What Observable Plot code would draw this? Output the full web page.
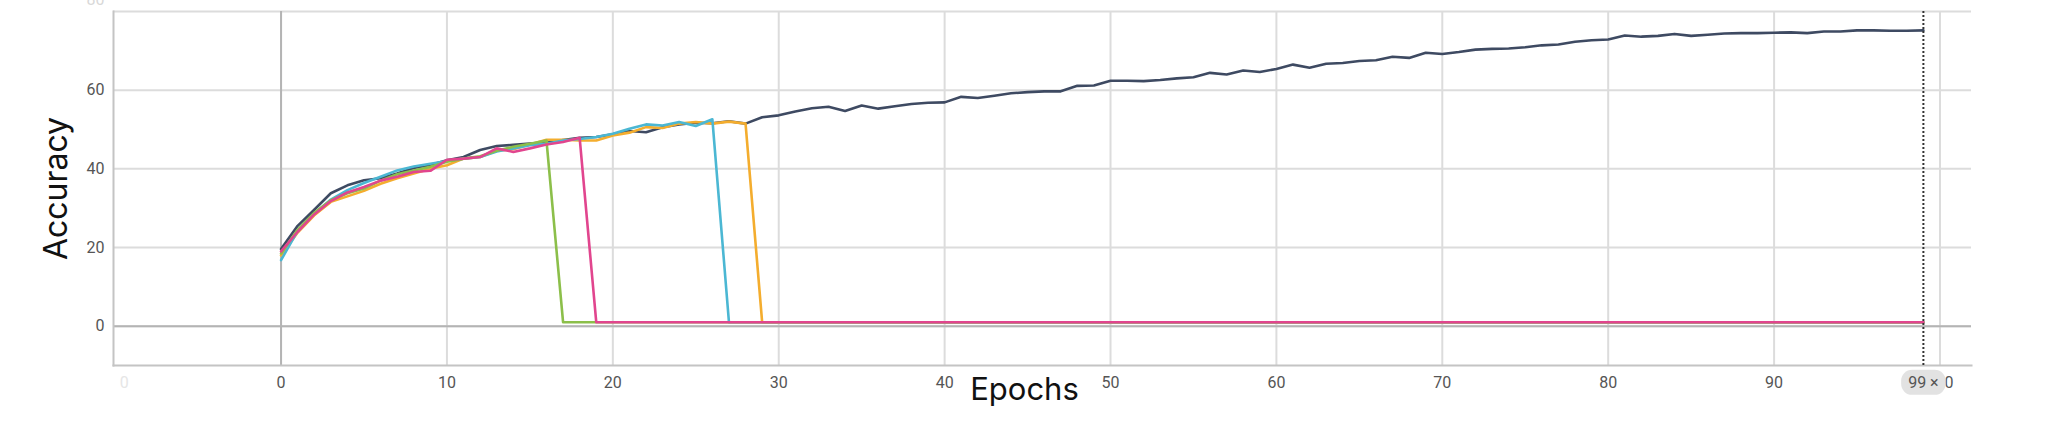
<!DOCTYPE html>
<html><head><meta charset="utf-8">
<script src="https://cdn.jsdelivr.net/npm/d3@7"></script>
<script src="https://cdn.jsdelivr.net/npm/@observablehq/plot@0.6"></script>
<style>html,body{margin:0;padding:0;background:#fff;overflow:hidden;}</style>
</head><body><div id="chart"></div>
<script>
const epochs = [0,1,2,3,4,5,6,7,8,9,10,11,12,13,14,15,16,17,18,19,20,21,22,23,24,25,26,27,28,29,30,31,32,33,34,35,36,37,38,39,40,41,42,43,44,45,46,47,48,49,50,51,52,53,54,55,56,57,58,59,60,61,62,63,64,65,66,67,68,69,70,71,72,73,74,75,76,77,78,79,80,81,82,83,84,85,86,87,88,89,90,91,92,93,94,95,96,97,98,99];

const seriesNames = ["Run 1", "Run 2", "Run 3", "Run 4", "Run 5"];

const run1 = [19.6,25.5,29.6,33.8,35.8,37.1,37.6,38.8,40.2,41.0,42.2,43.0,44.8,45.8,46.1,46.4,46.6,47.3,47.9,48.1,48.8,49.6,49.3,50.6,51.3,51.7,51.6,52.1,51.5,53.1,53.6,54.6,55.4,55.8,54.7,56.1,55.3,55.9,56.5,56.8,56.9,58.3,58.0,58.6,59.2,59.5,59.7,59.7,61.1,61.2,62.4,62.4,62.3,62.6,63.0,63.3,64.4,64.0,65.0,64.6,65.4,66.5,65.7,66.7,66.9,67.4,67.6,68.5,68.2,69.5,69.2,69.7,70.3,70.5,70.6,70.9,71.4,71.6,72.3,72.7,72.9,73.9,73.6,73.8,74.3,73.8,74.1,74.4,74.5,74.5,74.6,74.7,74.5,74.9,74.9,75.2,75.2,75.1,75.1,75.2];

const run2 = [18.0,23.8,28.2,31.6,33.0,34.4,36.2,37.6,38.8,40.0,40.9,42.6,43.0,44.6,45.0,46.2,47.4,47.4,47.2,47.2,48.5,49.2,50.6,50.4,51.5,51.9,51.5,52.0,51.5,1,1,1,1,1,1,1,1,1,1,1,1,1,1,1,1,1,1,1,1,1,1,1,1,1,1,1,1,1,1,1,1,1,1,1,1,1,1,1,1,1,1,1,1,1,1,1,1,1,1,1,1,1,1,1,1,1,1,1,1,1,1,1,1,1,1,1,1,1,1,1];

const run3 = [16.8,24.2,28.6,32.2,34.6,36.4,38.0,39.6,40.6,41.3,42.0,42.6,43.0,44.4,45.2,46.0,46.4,47.2,47.6,48.1,48.9,50.2,51.3,51.0,51.9,50.9,52.6,1,1,1,1,1,1,1,1,1,1,1,1,1,1,1,1,1,1,1,1,1,1,1,1,1,1,1,1,1,1,1,1,1,1,1,1,1,1,1,1,1,1,1,1,1,1,1,1,1,1,1,1,1,1,1,1,1,1,1,1,1,1,1,1,1,1,1,1,1,1,1,1,1,1,1];

const run4 = [18.5,24.5,28.8,32.0,33.8,35.0,37.0,38.6,39.6,40.5,41.8,42.6,43.2,44.6,45.6,46.4,47.2,1,1,1,1,1,1,1,1,1,1,1,1,1,1,1,1,1,1,1,1,1,1,1,1,1,1,1,1,1,1,1,1,1,1,1,1,1,1,1,1,1,1,1,1,1,1,1,1,1,1,1,1,1,1,1,1,1,1,1,1,1,1,1,1,1,1,1,1,1,1,1,1,1,1,1,1,1,1,1,1,1,1,1,1,1];

const run5 = [19.0,24.0,28.4,31.8,34.0,35.4,37.0,38.0,39.2,39.5,42.3,42.6,43.0,45.2,44.3,45.2,46.2,46.8,47.9,1,1,1,1,1,1,1,1,1,1,1,1,1,1,1,1,1,1,1,1,1,1,1,1,1,1,1,1,1,1,1,1,1,1,1,1,1,1,1,1,1,1,1,1,1,1,1,1,1,1,1,1,1,1,1,1,1,1,1,1,1,1,1,1,1,1,1,1,1,1,1,1,1,1,1,1,1,1,1,1,1,1,1,1,1];

const xTicks = [0,10,20,30,40,50,60,70,80,90,100];
const yTicks = [0,20,40,60];
const yTopTick = [80];
const xLeftTick = [-10];
const markerEpoch = [99];
const markerLabel = ["99 ×"];
const xTitle = "Epochs";
const yTitle = "Accuracy";

const allValues = [run1, run2, run3, run4, run5];
const rows = seriesNames.flatMap((name, i) => allValues[i].map((v, j) => ({epoch: epochs[j], acc: v, series: name})));

const chart = Plot.plot({
  width: 2048,
  height: 424,
  marginLeft: 113,
  marginRight: 77,
  marginTop: 11,
  marginBottom: 59,
  style: {fontFamily: "Roboto", background: "#fff"},
  x: {domain: [-10.1, 101.9]},
  y: {domain: [-10, 80]},
  color: {domain: seriesNames, range: ["#3e4a62", "#f4ad2e", "#4bb7d3", "#8cbf4a", "#e1458e"]},
  marks: [
    Plot.gridX(xTicks, {stroke: "#dcdcdc", strokeOpacity: 1, strokeWidth: 2}),
    Plot.gridY([...yTicks, ...yTopTick], {stroke: "#dcdcdc", strokeOpacity: 1, strokeWidth: 2}),
    Plot.ruleX([0], {stroke: "#b4b4b4", strokeWidth: 2}),
    Plot.ruleY([0], {stroke: "#b4b4b4", strokeWidth: 2}),
    Plot.frame({anchor: "left", stroke: "#c4c4c4", strokeWidth: 2}),
    Plot.frame({anchor: "bottom", stroke: "#c4c4c4", strokeWidth: 2}),
    Plot.line(rows, {x: "epoch", y: "acc", z: "series", stroke: "series", strokeWidth: 2.6}),
    Plot.ruleX(markerEpoch, {stroke: "#333", strokeWidth: 2, strokeDasharray: "2,2"}),
    Plot.axisY(yTicks, {tickSize: 0, tickPadding: 9, fontSize: 16, fill: "#555", label: null}),
    Plot.text(yTopTick, {x: () => -10.1, y: d => d, text: d => String(d), textAnchor: "end", dx: -9, dy: -12, fontSize: 16, fill: "#d8d8d8"}),
    Plot.axisX(xTicks, {tickSize: 0, tickPadding: 11, fontSize: 16, fill: "#555", label: null}),
    Plot.text(xLeftTick, {x: d => d, text: () => "0", frameAnchor: "bottom", dx: 9, dy: 11, lineAnchor: "top", fontSize: 16, fill: "#e6e6e6"}),
    Plot.text(markerLabel, {x: () => markerEpoch[0], text: d => d, frameAnchor: "bottom", dy: 11, lineAnchor: "top", fontSize: 16, fill: "#555", className: "pill"}),
    Plot.text([yTitle], {frameAnchor: "left", textAnchor: "middle", rotate: -90, dx: -57, fontSize: 32, fontFamily: "Inter", fill: "#111"}),
    Plot.text([xTitle], {frameAnchor: "bottom", textAnchor: "middle", dx: -18, dy: 34, fontSize: 31, fontFamily: "Inter", fill: "#111"})
  ]
});
document.getElementById("chart").appendChild(chart);

// rounded background behind the hover label
const pillText = chart.querySelector("g.pill text");
if (pillText) {
  const b = pillText.getBBox();
  const t = pillText.getAttribute("transform");
  const rect = document.createElementNS("http://www.w3.org/2000/svg", "rect");
  rect.setAttribute("x", b.x - 7);
  rect.setAttribute("y", b.y - 3);
  rect.setAttribute("width", b.width + 14);
  rect.setAttribute("height", b.height + 6);
  rect.setAttribute("rx", 11);
  rect.setAttribute("fill", "#e2e2e2");
  if (t) rect.setAttribute("transform", t);
  pillText.parentNode.insertBefore(rect, pillText);
}
</script>
</body></html>
